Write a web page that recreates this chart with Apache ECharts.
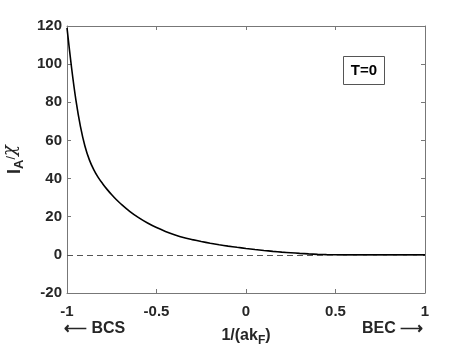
<!DOCTYPE html>
<html>
<head>
<meta charset="utf-8">
<script src="https://cdn.jsdelivr.net/npm/echarts@6/dist/echarts.min.js"></script>
<style>
  html, body { margin: 0; padding: 0; background: #fff; }
  #chart { width: 469px; height: 352px; }
</style>
</head>
<body>
<div id="chart"></div>
<script>
// values
var xVals = [-1, -0.975, -0.95, -0.925, -0.9, -0.875, -0.85, -0.825, -0.8, -0.775, -0.75, -0.725, -0.7,
  -0.65, -0.6, -0.55, -0.5, -0.45, -0.4, -0.35, -0.3, -0.25, -0.2, -0.15, -0.1, -0.05, 0,
  0.05, 0.1, 0.15, 0.2, 0.25, 0.3, 0.35, 0.4, 0.45, 0.5, 0.55, 0.6, 0.8, 1];
var iaVals = [119, 98.5, 81, 67.4, 57.1, 49.8, 44.6, 40.5, 37.2, 34.2, 31.5, 29, 26.8,
  22.8, 19.5, 16.7, 14.3, 12.3, 10.6, 9.1, 8.0, 7.0, 6.1, 5.3, 4.6, 3.95, 3.35,
  2.8, 2.3, 1.85, 1.45, 1.1, 0.78, 0.5, 0.27, 0.1, 0.02, 0, 0, 0, 0];
var xTicks = [-1, -0.5, 0, 0.5, 1];
var yTicks = [-20, 0, 20, 40, 60, 80, 100, 120];

var chart = echarts.init(document.getElementById('chart'));
var font = 'Liberation Sans, Arial, Helvetica, sans-serif';
var axisColor = '#777';
var labelColor = '#262626';

var curve = xVals.map(function (x, i) { return [x, iaVals[i]]; });

function baseAxis(extra) {
  var a = {
    type: 'value',
    axisLine: { show: true, onZero: false, lineStyle: { color: axisColor, width: 1 } },
    axisTick: { show: true, inside: true, length: 4, lineStyle: { color: axisColor } },
    splitLine: { show: false },
    axisLabel: { show: false }
  };
  return Object.assign(a, extra);
}

var option = {
  animation: false,
  grid: { left: 67, right: 44, top: 26, bottom: 59, outerBoundsMode: 'none', containLabel: false },
  xAxis: [
    baseAxis({
      min: -1, max: 1, interval: 0.5, position: 'bottom',
      axisLabel: {
        show: true, color: labelColor, fontFamily: font, fontWeight: 'bold', fontSize: 15, margin: 11,
        formatter: function (v) { return String(v); }
      },
      name: '{m|1/(ak}{s|F}{m|)}', nameLocation: 'middle', nameGap: 31,
      nameTextStyle: {
        rich: {
          m: { fontFamily: font, fontWeight: 'bold', fontSize: 16, color: labelColor },
          s: { fontFamily: font, fontWeight: 'bold', fontSize: 12, color: labelColor, padding: [11, 0, 0, 0] }
        }
      }
    }),
    baseAxis({ min: -1, max: 1, interval: 0.5, position: 'top' })
  ],
  yAxis: [
    baseAxis({
      min: -20, max: 120, interval: 20, position: 'left',
      axisLabel: { show: true, color: labelColor, fontFamily: font, fontWeight: 'bold', fontSize: 15, margin: 5 },
      name: '{m|I}{s|A}{k|/}{c|χ}', nameLocation: 'middle', nameGap: 36, nameRotate: 90,
      nameTextStyle: {
        rich: {
          m: { fontFamily: font, fontWeight: 'bold', fontSize: 18, color: labelColor },
          s: { fontFamily: font, fontWeight: 'bold', fontSize: 13, color: labelColor, padding: [10, 0, 0, 0] },
          k: { fontFamily: font, fontSize: 13, color: labelColor, padding: [0, 0, 7, 0] },
          c: { fontFamily: 'DejaVu Serif, serif', fontStyle: 'italic', fontSize: 18, color: labelColor, padding: [0, 0, 9, 0] }
        }
      }
    }),
    baseAxis({ min: -20, max: 120, interval: 20, position: 'right' })
  ],
  series: [
    {
      type: 'line',
      data: curve,
      smooth: 0.3,
      showSymbol: false,
      lineStyle: { color: '#000', width: 1.6 },
      z: 3,
      markLine: {
        silent: true,
        symbol: 'none',
        label: { show: false },
        lineStyle: { color: '#555', type: [6, 4], width: 1.2 },
        data: [{ yAxis: 0 }]
      }
    }
  ],
  graphic: [
    {
      type: 'group', left: 343, top: 56,
      children: [
        { type: 'rect', shape: { x: 0, y: 0, width: 41, height: 28 },
          style: { fill: '#fff', stroke: '#555', lineWidth: 1 } },
        { type: 'text', x: 20.5, y: 14,
          style: { text: 'T=0', font: 'bold 15px ' + font, fill: '#000', align: 'center', verticalAlign: 'middle' } }
      ]
    },
    {
      type: 'text', left: 64, top: 321,
      style: { text: '\u27F5 BCS', font: 'bold 16px ' + font, fill: labelColor }
    },
    {
      type: 'text', left: 362, top: 321,
      style: { text: 'BEC \u27F6', font: 'bold 16px ' + font, fill: labelColor }
    }
  ]
};

chart.setOption(option);
</script>
</body>
</html>
